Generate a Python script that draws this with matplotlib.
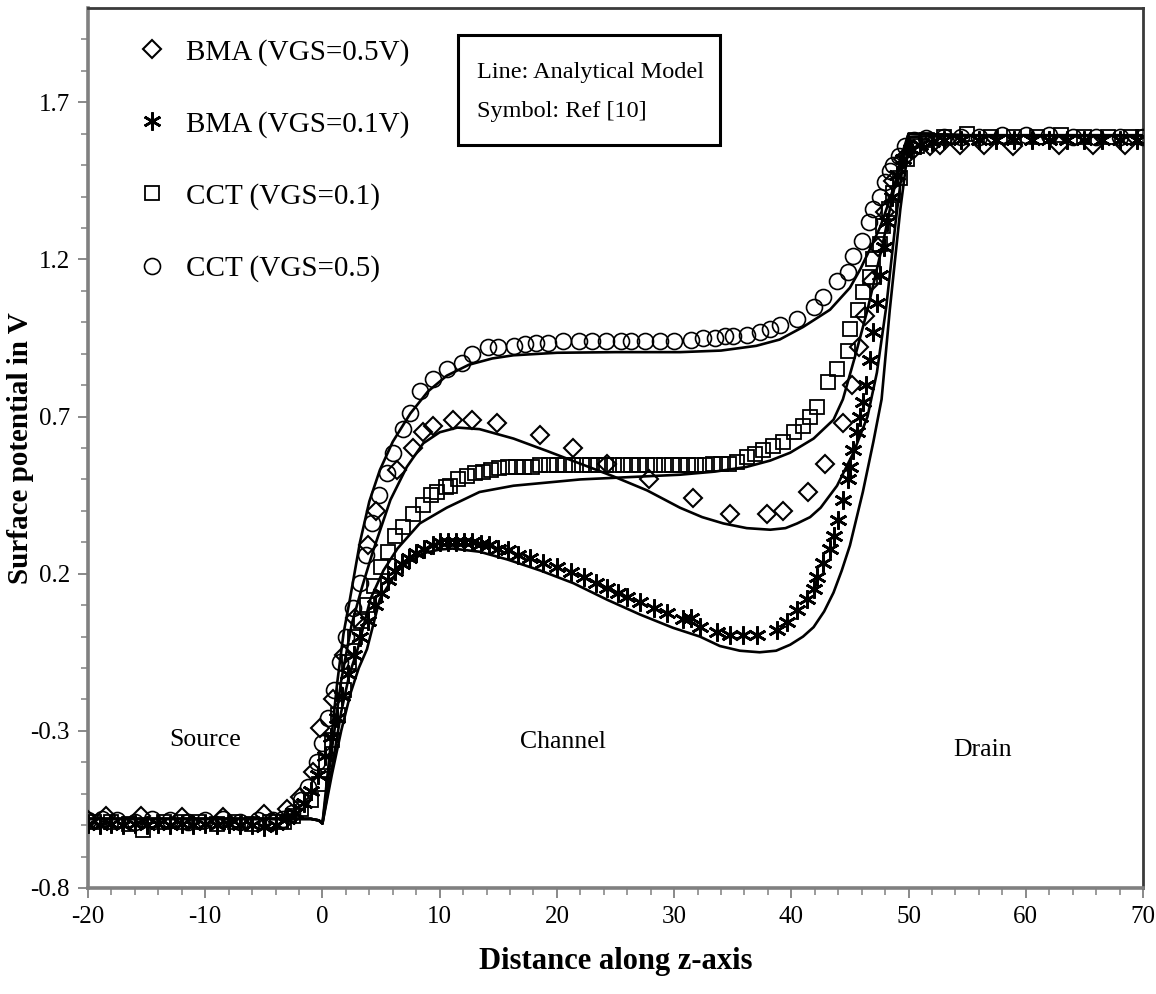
import numpy as np
import matplotlib
matplotlib.use("Agg")
import matplotlib.pyplot as plt
from matplotlib.patches import Rectangle

plt.rcParams['font.family'] = ['Liberation Serif', 'DejaVu Serif']

# ---------------- Analytical model lines ----------------
lineA_x = [-20, -10, -1.0, -0.3, 0.0, 0.6, 1.25, 1.8, 2.35, 3.2, 4.0, 4.9, 6.0, 7.5, 9.0, 10.6, 12.5, 14.5,
           16.3, 20, 25, 30.5, 34, 37, 39, 41, 43.3, 45, 45.9, 46.8, 47.6, 48.3, 49.0, 49.5, 50.0, 55, 60, 65, 70]
lineA_y = [-0.58, -0.58, -0.58, -0.585, -0.595, -0.38, -0.15, 0.01, 0.12, 0.30, 0.43, 0.53, 0.62, 0.71, 0.78,
           0.83, 0.865, 0.885, 0.895, 0.903, 0.905, 0.905, 0.91, 0.925, 0.945, 0.985, 1.04, 1.11, 1.17, 1.24,
           1.305, 1.38, 1.46, 1.52, 1.60, 1.595, 1.595, 1.595, 1.595]

lineB_x = [-20, -10, -1.0, -0.3, 0.0, 0.8, 1.6, 2.5, 3.4, 4.3, 5.8, 7.2, 8.6, 10.0, 11.5, 13.4, 16.3, 19.2,
           22.0, 24.8, 27.7, 30.5, 32.4, 34.2, 36.2, 38.2, 39.5, 40.5, 41.6, 42.5, 43.9, 45.3, 46.5, 47.3,
           48.1, 48.9, 49.5, 50.0, 55, 60, 65, 70]
lineB_y = [-0.58, -0.58, -0.58, -0.585, -0.595, -0.36, -0.14, 0.04, 0.16, 0.27, 0.435, 0.54, 0.615, 0.65,
           0.665, 0.66, 0.63, 0.59, 0.55, 0.51, 0.465, 0.41, 0.38, 0.36, 0.345, 0.34, 0.345, 0.36, 0.38,
           0.41, 0.48, 0.585, 0.70, 0.84, 1.05, 1.32, 1.50, 1.60, 1.595, 1.595, 1.595, 1.595]

lineC_x = [-20, -10, -1.0, -0.3, 0.0, 0.8, 1.6, 2.3, 3.0, 4.1, 5.2, 6.4, 8.3, 10.6, 13.4, 16.3, 22.0, 30.5,
           33.5, 36.2, 38.2, 39.9, 41.9, 43.6, 44.4, 45.5, 46.5, 47.8, 49.3, 50.0, 55, 60, 65, 70]
lineC_y = [-0.58, -0.58, -0.58, -0.585, -0.595, -0.42, -0.24, -0.12, -0.04, 0.12, 0.21, 0.28, 0.36, 0.41,
           0.46, 0.48, 0.50, 0.515, 0.525, 0.54, 0.56, 0.585, 0.63, 0.69, 0.755, 0.90, 1.04, 1.25, 1.52, 1.60,
           1.595, 1.595, 1.595, 1.595]

lineD_x = [-20, -10, -1.0, -0.3, 0.0, 0.8, 1.6, 2.4, 3.1, 3.8, 4.9, 6.6, 8.6, 10.0, 11.1, 13.4, 15.8, 18.6,
           21.4, 24.3, 27.1, 29.9, 32.2, 33.9, 35.6, 37.3, 38.7, 39.9, 41.0, 41.9, 42.8, 43.6, 44.3, 45.0,
           46.1, 47.0, 47.7, 48.4, 49.3, 50.1, 55, 60, 65, 70]
lineD_y = [-0.58, -0.58, -0.58, -0.585, -0.595, -0.44, -0.30, -0.18, -0.10, -0.04, 0.12, 0.22, 0.265,
           0.277, 0.28, 0.27, 0.245, 0.21, 0.17, 0.117, 0.07, 0.028, 0.0, -0.03, -0.045, -0.05, -0.045,
           -0.026, 0.0, 0.03, 0.08, 0.14, 0.21, 0.29, 0.46, 0.62, 0.755, 1.04, 1.36, 1.59, 1.595, 1.595,
           1.595, 1.595]

# ---------------- Ref [10] symbols ----------------
# BMA (VGS=0.5V) - diamonds
bma05_x = [-20, -18.5, -15.5, -12, -8.5, -5, -4.2, -3.0, -1.9, -0.8, -0.2, 0.9, 1.8, 2.8, 3.9, 4.6, 6.4, 7.7,
           8.6, 9.4, 11.1, 12.8, 14.9, 18.6, 21.4, 24.3, 27.9, 31.6, 34.8, 37.9, 39.3, 41.4, 42.9, 44.4, 45.2,
           45.8, 46.3, 46.9, 47.4, 48.0, 48.7, 49.5, 50.5, 51.8, 52.7, 54.4, 56.4, 58.9, 62.8, 65.7, 68.5]
bma05_y = [-0.585, -0.57, -0.57, -0.575, -0.575, -0.565, -0.59, -0.55, -0.51, -0.43, -0.29, -0.20, -0.06,
           0.06, 0.29, 0.40, 0.53, 0.60, 0.65, 0.67, 0.69, 0.69, 0.68, 0.64, 0.60, 0.55, 0.50, 0.44, 0.39,
           0.39, 0.40, 0.46, 0.55, 0.68, 0.80, 0.92, 1.02, 1.13, 1.24, 1.35, 1.45, 1.52, 1.55, 1.56, 1.565,
           1.565, 1.565, 1.56, 1.565, 1.565, 1.565]

# BMA (VGS=0.1V) - asterisks
bma01_x = [-20, -19, -18, -17, -16, -15, -14, -13, -12, -11, -10, -9, -8, -7, -6, -5, -4,
           -3.0, -2.3, -1.6, -1.0, -0.4, 0.2, 0.7, 1.2, 1.7, 2.2, 2.7, 3.2, 3.9, 4.5, 5.0, 5.6, 6.2, 6.8,
           7.4, 8.0, 8.7, 9.4, 10.0, 10.7, 11.4, 12.1, 12.8, 13.5, 14.2, 15.0, 15.8, 16.7, 17.7, 18.8, 20.0,
           21.2, 22.3, 23.3, 24.3, 25.2, 26.0, 27.1, 28.3, 29.4, 30.8, 31.4, 32.2, 33.7, 34.8, 35.9, 37.1,
           38.8, 39.6, 40.5, 41.3, 41.9, 42.2, 42.7, 43.3, 43.6, 44.0, 44.4, 44.8, 45.0, 45.3, 45.6, 45.9,
           46.1, 46.4, 46.7, 47.0, 47.3, 47.6, 47.9, 48.2, 48.6, 49.0, 49.5, 50.2, 51.0, 52, 53, 54.5, 56,
           57.5, 59, 60.5, 62, 63.5, 65, 66.5, 68, 69.5]
bma01_y = [-0.595, -0.6, -0.595, -0.6, -0.595, -0.6, -0.595, -0.6, -0.595, -0.6, -0.595, -0.6, -0.595,
           -0.6, -0.6, -0.605, -0.6,
           -0.58, -0.56, -0.53, -0.49, -0.44, -0.38, -0.32, -0.26, -0.19, -0.12, -0.06, 0.0, 0.05, 0.10,
           0.14, 0.18, 0.21, 0.23, 0.25, 0.265, 0.28, 0.29, 0.30, 0.30, 0.30, 0.30, 0.30, 0.295, 0.29, 0.28,
           0.275, 0.26, 0.25, 0.235, 0.22, 0.205, 0.19, 0.17, 0.155, 0.14, 0.125, 0.11, 0.09, 0.075, 0.055,
           0.06, 0.03, 0.015, 0.005, 0.005, 0.005, 0.02, 0.047, 0.085, 0.12, 0.15, 0.19, 0.235, 0.28, 0.32,
           0.37, 0.435, 0.50, 0.54, 0.595, 0.65, 0.70, 0.745, 0.80, 0.88, 0.97, 1.06, 1.15, 1.24, 1.32,
           1.40, 1.47, 1.52, 1.55, 1.565, 1.575, 1.58, 1.58, 1.58, 1.58, 1.58, 1.58, 1.58, 1.58, 1.58, 1.58,
           1.58, 1.58]

# CCT (VGS=0.1) - squares
cct01_x = [-19.5, -18, -16.5, -15.3, -13.5, -12, -10.5, -9, -7.5, -6, -4.5, -3.3, -2.5, -1.8, -1.0, -0.3,
           0.3, 0.8, 1.3, 1.8, 2.3, 2.8, 3.3, 3.8, 4.4, 5.0, 5.6, 6.2, 6.9, 7.7, 8.6, 9.3, 9.8, 10.5, 10.9,
           11.6, 12.3, 13.0, 13.7, 14.4, 15.1, 15.8, 16.5, 17.2, 17.9, 18.6, 19.3, 20.0, 20.7, 21.4, 22.1,
           22.8, 23.5, 24.2, 24.9, 25.6, 26.3, 27.0, 27.7, 28.4, 29.1, 29.8, 30.5, 31.2, 31.9, 32.6, 33.3,
           34.0, 34.7, 35.4, 36.2, 36.9, 37.6, 38.4, 39.3, 40.2, 41.0, 41.6, 42.2, 43.1, 43.9, 44.8, 45.0,
           45.7, 46.1, 46.7, 47.0, 47.6, 47.8, 48.3, 48.7, 49.3, 49.9, 50.7, 51.6, 53, 55, 57, 59, 61, 63,
           65, 67, 69, 70]
cct01_y = [-0.59, -0.59, -0.595, -0.615, -0.59, -0.59, -0.59, -0.595, -0.59, -0.595, -0.59, -0.59, -0.57,
           -0.55, -0.52, -0.47, -0.40, -0.33, -0.25, -0.17, -0.08, 0.0, 0.05, 0.10, 0.16, 0.22, 0.27, 0.32,
           0.35, 0.39, 0.42, 0.45, 0.46, 0.475, 0.48, 0.50, 0.51, 0.52, 0.525, 0.53, 0.535, 0.54, 0.54,
           0.54, 0.54, 0.545, 0.545, 0.545, 0.545, 0.545, 0.545, 0.545, 0.545, 0.545, 0.545, 0.545, 0.545,
           0.545, 0.545, 0.545, 0.545, 0.545, 0.547, 0.547, 0.547, 0.547, 0.55, 0.55, 0.55, 0.555, 0.57,
           0.58, 0.595, 0.605, 0.62, 0.65, 0.67, 0.70, 0.73, 0.81, 0.85, 0.91, 0.98, 1.04, 1.095, 1.145,
           1.20, 1.25, 1.305, 1.36, 1.41, 1.46, 1.52, 1.56, 1.58, 1.59, 1.60, 1.59, 1.59, 1.59, 1.595,
           1.59, 1.59, 1.59, 1.59]

# CCT (VGS=0.5) - circles
cct05_x = [-20, -18.8, -17.5, -16, -14.5, -13, -11.5, -10, -8.5, -7, -5.5, -4.2, -3.4, -2.6, -1.8, -1.2,
           -0.5, 0.0, 0.5, 1.0, 1.5, 2.0, 2.6, 3.2, 3.7, 4.2, 4.8, 5.5, 6.0, 6.9, 7.5, 8.3, 9.4, 10.6, 11.9,
           12.8, 14.1, 15.0, 16.3, 17.3, 18.2, 19.2, 20.5, 21.9, 23.0, 24.2, 25.5, 26.3, 27.5, 28.8, 30.0,
           31.4, 32.5, 33.5, 34.3, 35.0, 36.2, 37.3, 38.2, 39.0, 40.5, 41.9, 42.7, 43.9, 44.8, 45.3, 46.0,
           46.6, 47.0, 47.6, 48.0, 48.4, 48.7, 49.2, 49.7, 50.5, 51.5, 53, 54.5, 56, 58, 60, 62, 64, 66, 68,
           70]
cct05_y = [-0.585, -0.58, -0.585, -0.59, -0.58, -0.585, -0.59, -0.585, -0.58, -0.59, -0.585, -0.585,
           -0.58, -0.56, -0.52, -0.48, -0.40, -0.34, -0.26, -0.17, -0.08, 0.0, 0.09, 0.17, 0.26, 0.36, 0.45,
           0.52, 0.585, 0.66, 0.71, 0.78, 0.82, 0.85, 0.87, 0.90, 0.92, 0.92, 0.925, 0.93, 0.935, 0.935, 0.94,
           0.94, 0.94, 0.94, 0.94, 0.94, 0.94, 0.94, 0.94, 0.945, 0.95, 0.95, 0.955, 0.955, 0.96, 0.97, 0.98,
           0.99, 1.01, 1.05, 1.08, 1.13, 1.16, 1.21, 1.26, 1.32, 1.36, 1.40, 1.445, 1.48, 1.50, 1.53, 1.56,
           1.58, 1.585, 1.59, 1.59, 1.59, 1.595, 1.595, 1.595, 1.59, 1.59, 1.59, 1.59]

legend_labels = ["BMA (VGS=0.5V)", "BMA (VGS=0.1V)", "CCT (VGS=0.1)", "CCT (VGS=0.5)"]
y_ticks = [-0.8, -0.3, 0.2, 0.7, 1.2, 1.7]
x_ticks = [-20, -10, 0, 10, 20, 30, 40, 50, 60, 70]

# ---------------- Figure ----------------
fig = plt.figure(figsize=(11.56, 9.94), dpi=100)
ax = fig.add_axes([0.07612, 0.10664, 0.91263, 0.88531])

lw_line = 1.9
for lx, ly in [(lineA_x, lineA_y), (lineB_x, lineB_y), (lineC_x, lineC_y), (lineD_x, lineD_y)]:
    ax.plot(lx, ly, color='black', lw=lw_line, zorder=3, solid_joinstyle='round')

mk = dict(linestyle='none', markerfacecolor='none', markeredgecolor='black', zorder=4)
h1, = ax.plot(bma05_x, bma05_y, marker='D', markersize=9.5, markeredgewidth=1.5, **mk)
h2, = ax.plot(bma01_x, bma01_y, marker=(6, 2, 0), markersize=13, markeredgewidth=1.9, **mk)
h3, = ax.plot(cct01_x, cct01_y, marker='s', markersize=10.5, markeredgewidth=1.3, **mk)
h4, = ax.plot(cct05_x, cct05_y, marker='o', markersize=11.5, markeredgewidth=1.2, **mk)

ax.set_xlim(-20, 70)
ax.set_ylim(-0.8, 2.0)
ax.set_xticks(x_ticks)
ax.set_xticklabels([str(v) for v in x_ticks])
ax.set_yticks(y_ticks)
ax.set_yticklabels(["%.1f" % v for v in y_ticks])
ax.set_xticks(np.arange(-20, 70.1, 2), minor=True)
ax.set_yticks(np.arange(-0.8, 1.95, 0.1), minor=True)

ax.tick_params(axis='both', which='major', direction='out', length=7, width=1.3,
               color='#808080', labelsize=18, pad=6)
ax.tick_params(axis='both', which='minor', direction='out', length=5, width=1.1, color='#808080')

for s in ['left', 'bottom']:
    ax.spines[s].set_color('#808080')
    ax.spines[s].set_linewidth(2.6)
for s in ['top', 'right']:
    ax.spines[s].set_color('#3a3a3a')
    ax.spines[s].set_linewidth(2.0)

ax.set_xlabel("Distance along z-axis", fontsize=22, fontweight='bold', labelpad=14)
ax.set_ylabel("Surface potential in V", fontsize=21, fontweight='bold', va='center')
ax.yaxis.set_label_coords(-0.064, 0.5)

# region labels
ax.text(-10.0, -0.33, "Source", fontsize=18.5, ha='center', va='center')
ax.text(20.5, -0.335, "Channel", fontsize=18.5, ha='center', va='center')
ax.text(56.3, -0.36, "Drain", fontsize=18.5, ha='center', va='center')

# info box
rect = Rectangle((0.3507, 0.8443), 0.2483, 0.125, transform=ax.transAxes, fill=False,
                 edgecolor='black', lw=2.2, zorder=5)
ax.add_patch(rect)
ax.text(0.3687, 0.927, "Line: Analytical Model", transform=ax.transAxes, fontsize=17.5,
        ha='left', va='center', zorder=6)
ax.text(0.3687, 0.882, "Symbol: Ref [10]", transform=ax.transAxes, fontsize=17.5,
        ha='left', va='center', zorder=6)

leg = ax.legend([h1, h2, h3, h4], legend_labels, loc='upper left', bbox_to_anchor=(0.047, 0.965),
                frameon=False, fontsize=21, handlelength=1.0, handletextpad=0.65,
                labelspacing=1.55, borderaxespad=0, borderpad=0)

fig.savefig("out.png", dpi=100)
